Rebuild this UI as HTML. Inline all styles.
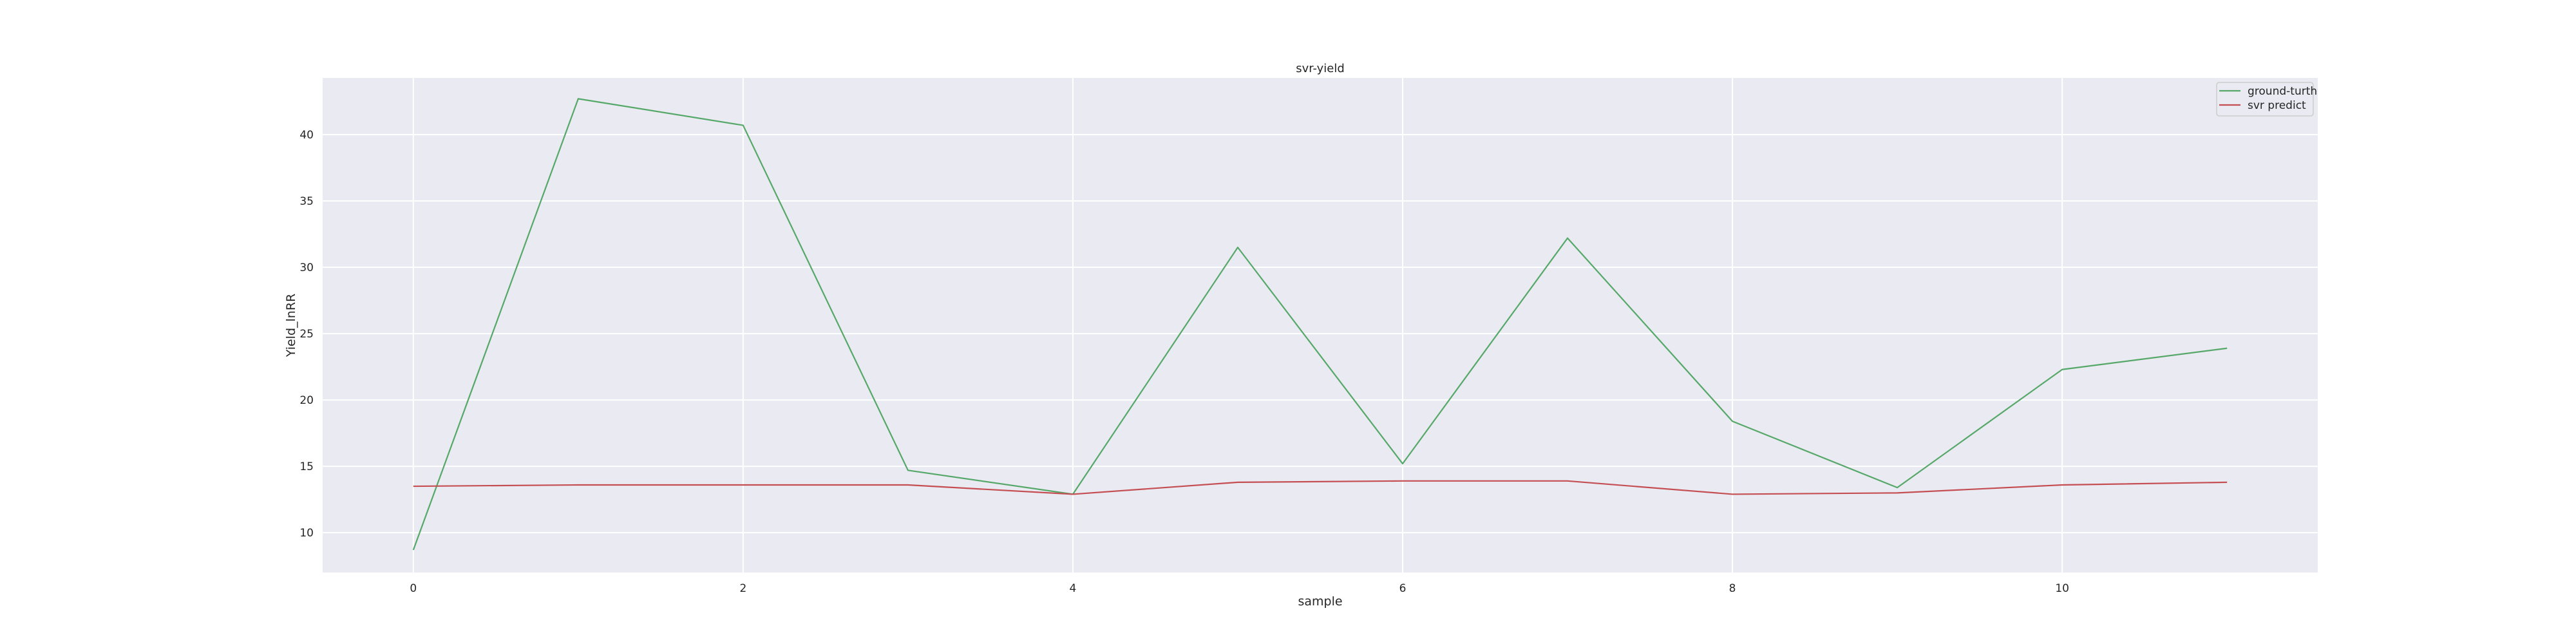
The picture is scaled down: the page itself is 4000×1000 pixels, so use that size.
<!DOCTYPE html>
<html><head><meta charset="utf-8"><style>
html,body{margin:0;padding:0;background:#fff}
svg{display:block;font-family:"DejaVu Sans","Liberation Sans",sans-serif}
</style></head><body>
<svg id="chart" width="4000" height="1000" xmlns="http://www.w3.org/2000/svg"></svg>
<script>
const categories = [0,1,2,3,4,5,6,7,8,9,10,11];
const groundTruth = [8.7,42.7,40.7,14.7,12.9,31.5,15.2,32.2,18.4,13.4,22.3,23.9];
const svrPredict = [13.5,13.6,13.6,13.6,12.9,13.8,13.9,13.9,12.9,13.0,13.6,13.8];
const xTicks = [0,2,4,6,8,10];
const yTicks = [10,15,20,25,30,35,40];

const NS="http://www.w3.org/2000/svg";
const svg=document.getElementById('chart');
const L=501,R=3599,T=121,B=889;
const xMin=-0.55,xMax=11.55;
const yMin=7.0,yMax=44.27;
function xs(v){return L+(v-xMin)/(xMax-xMin)*(R-L);}
function ys(v){return B-(v-yMin)/(yMax-yMin)*(B-T);}
function mk(tag,attrs){const e=document.createElementNS(NS,tag);for(const k in attrs)e.setAttribute(k,attrs[k]);svg.appendChild(e);return e;}

const bg=mk('rect',{x:L,y:T,width:R-L,height:B-T,fill:'#eaeaf2'});



xTicks.forEach(v=>{
  const g=mk('line',{x1:xs(v),x2:xs(v),y1:T,y2:B,stroke:'#fff','stroke-width':2});
  
  
  const t=mk('text',{x:xs(v),y:B+30,'text-anchor':'middle','font-size':17,fill:'#262626'});
  t.textContent=v;
  
  
});
yTicks.forEach(v=>{
  const g=mk('line',{x1:L,x2:R,y1:ys(v),y2:ys(v),stroke:'#fff','stroke-width':2});
  
  
  const t=mk('text',{x:487,y:ys(v)+6,'text-anchor':'end','font-size':17,fill:'#262626'});
  t.textContent=v;
  
  
});

function series(vals,color,name){
  const p=mk('polyline',{points:vals.map((v,i)=>xs(categories[i])+','+ys(v)).join(' '),fill:'none',stroke:color,'stroke-width':2.2,'stroke-linejoin':'round'});
  
  
}
series(groundTruth,'#55a868','ground-truth-line');
series(svrPredict,'#c44e52','svr-predict-line');

const title=mk('text',{x:(L+R)/2,y:112,'text-anchor':'middle','font-size':18,fill:'#262626'});
title.textContent='svr-yield';



const xl=mk('text',{x:(L+R)/2,y:940,'text-anchor':'middle','font-size':19,fill:'#262626'});
xl.textContent='sample';



const yl=mk('text',{x:0,y:0,'text-anchor':'middle','font-size':19,fill:'#262626',transform:'translate(458,'+((T+B)/2)+') rotate(-90)'});
yl.textContent='Yield_lnRR';



const lg=mk('rect',{x:3442,y:128,width:150,height:52,rx:4,fill:'#eaeaf2',stroke:'#cccccc','stroke-width':1.5});


[['ground-turth','#55a868',141],['svr predict','#c44e52',163]].forEach(([lab,c,y])=>{
  const l=mk('line',{x1:3446,x2:3479,y1:y,y2:y,stroke:c,'stroke-width':2.2});
  
  
  const t=mk('text',{x:3490,y:y+6,'font-size':17,fill:'#262626'});
  t.textContent=lab;
  
  
});
</script>
</body></html>
